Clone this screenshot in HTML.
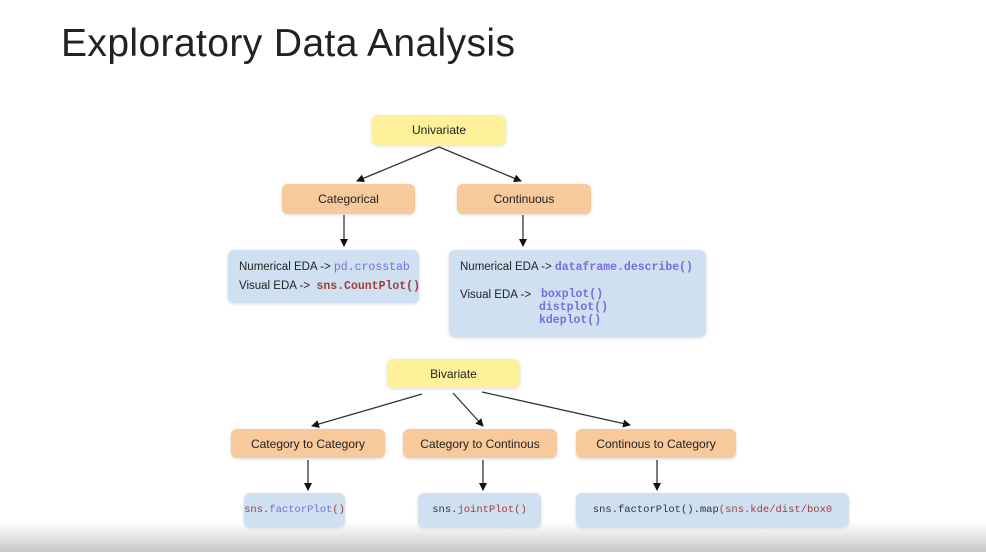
<!DOCTYPE html>
<html><head><meta charset="utf-8"><style>
body{margin:0;width:986px;height:552px;overflow:hidden;background:#fff;font-family:"Liberation Sans",sans-serif;position:relative}
.bg{position:absolute;left:0;top:522px;width:986px;height:30px;background:linear-gradient(#ffffff,#c8c8c8)}
h1{position:absolute;left:61px;top:22px;margin:0;font-weight:normal;font-size:39px;color:#222;letter-spacing:0.4px}
.b{position:absolute;border-radius:6px;box-shadow:0 1px 3px rgba(0,0,0,.15);font-size:12px;color:#222;display:flex;align-items:center;justify-content:center;box-sizing:border-box}
.y{background:#fdf19a}.o{background:#f8c99b}.u{background:#cfe1f1}
.t{position:absolute;font-size:11.5px;white-space:pre;color:#222}
.m{font-family:"Liberation Mono",monospace;font-size:11.5px;font-weight:bold}
.n{font-weight:normal}
.s{font-family:"Liberation Mono",monospace;font-size:10.5px;white-space:pre}
.p{color:#7b6ae0}.r{color:#a43c3c}.k{color:#333}
</style></head><body>
<div class="bg"></div>
<h1>Exploratory Data Analysis</h1>
<svg width="986" height="552" style="position:absolute;left:0;top:0">
<defs><marker id="a" markerWidth="8" markerHeight="8" refX="7" refY="4" orient="auto" markerUnits="userSpaceOnUse"><path d="M0,0 L8,4 L0,8z" fill="#111"/></marker></defs>
<g stroke="#333" stroke-width="1.3" marker-end="url(#a)">
<line x1="439" y1="147" x2="357" y2="181"/>
<line x1="439" y1="147" x2="521" y2="181"/>
<line x1="344" y1="215" x2="344" y2="246"/>
<line x1="523" y1="215" x2="523" y2="246"/>
<line x1="422" y1="394" x2="312" y2="426"/>
<line x1="453" y1="393" x2="483" y2="426"/>
<line x1="482" y1="392" x2="630" y2="425"/>
<line x1="308" y1="460" x2="308" y2="490"/>
<line x1="483" y1="460" x2="483" y2="490"/>
<line x1="657" y1="460" x2="657" y2="490"/>
</g></svg>
<div class="b y" style="left:372px;top:115px;width:134px;height:30px">Univariate</div>
<div class="b o" style="left:282px;top:184px;width:133px;height:30px">Categorical</div>
<div class="b o" style="left:457px;top:184px;width:134px;height:30px">Continuous</div>
<div class="b u" style="left:228px;top:250px;width:191px;height:53px"></div>
<div class="t" style="left:239px;top:261px">Numerical EDA -&gt; <span class="m n p">pd.crosstab</span></div>
<div class="t" style="left:239px;top:280px">Visual EDA -&gt;  <span class="m r">sns.CountPlot()</span></div>
<div class="b u" style="left:449px;top:250px;width:257px;height:87px"></div>
<div class="t" style="left:460px;top:261px">Numerical EDA -&gt; <span class="m p">dataframe.describe()</span></div>
<div class="t" style="left:460px;top:289px">Visual EDA -&gt;</div>
<div class="t m p" style="left:541px;top:288px">boxplot()</div>
<div class="t m p" style="left:539px;top:301px">distplot()</div>
<div class="t m p" style="left:539px;top:314px">kdeplot()</div>
<div class="b y" style="left:387px;top:359px;width:133px;height:29px">Bivariate</div>
<div class="b o" style="left:231px;top:429px;width:154px;height:29px">Category to Category</div>
<div class="b o" style="left:403px;top:429px;width:154px;height:29px">Category to Continous</div>
<div class="b o" style="left:576px;top:429px;width:160px;height:29px">Continous to Category</div>
<div class="b u" style="left:244px;top:493px;width:101px;height:34px"><span class="s r">sns.<span class="p">factorPlot</span>()</span></div>
<div class="b u" style="left:418px;top:493px;width:123px;height:34px"><span class="s k">sns.<span class="r">jointPlot()</span></span></div>
<div class="b u" style="left:576px;top:493px;width:273px;height:34px"><span class="s k">sns.factorPlot().map<span class="r">(sns.kde/dist/box0</span></span></div>
</body></html>
